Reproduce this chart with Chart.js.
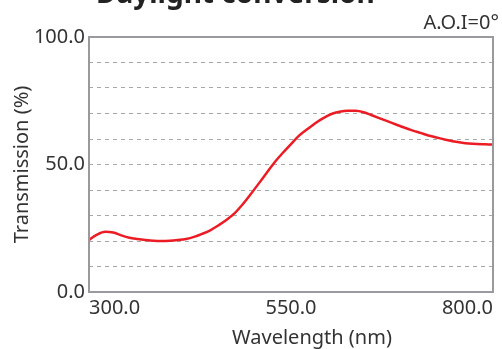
<!DOCTYPE html>
<html>
<head>
<meta charset="utf-8">
<script src="https://cdn.jsdelivr.net/npm/chart.js@4"></script>
<style>
  html, body { margin: 0; padding: 0; background: #fff; }
  #wrap { width: 502px; height: 349px; position: relative; }
</style>
</head>
<body>
<div id="wrap"><canvas id="chart"></canvas></div>
<script>
const chartTitle = "Daylight conversion"
const angleNote = "A.O.I=0°"
const xTitle = "Wavelength (nm)"

const wavelengths = [300, 310, 320, 330, 340, 350, 360, 370, 380, 390, 400, 410, 420, 430, 440, 450, 460, 470, 480, 490,
  500, 510, 520, 530, 540, 550, 560, 570, 580, 590, 600, 610, 620, 630, 640, 650, 660, 670, 680, 690,
  700, 710, 720, 730, 740, 750, 760, 770, 780, 790, 800]
const transmission = [20.4, 22.5, 23.6, 23.3, 22.2, 21.3, 20.8, 20.4, 20.1, 20.0, 20.1, 20.4, 20.8, 21.6, 22.8, 24.2, 26.1, 28.2, 30.8, 34.3,
  38.3, 42.5, 46.8, 51.0, 54.6, 58.0, 61.3, 63.8, 66.2, 68.2, 69.8, 70.7, 71.1, 71.1, 70.5, 69.3, 68.1, 66.9, 65.7, 64.5,
  63.4, 62.4, 61.4, 60.6, 59.8, 59.1, 58.6, 58.2, 58.0, 57.9, 57.8]
const xTicks = [300, 550, 800]
const yLabelled = [0, 50, 100]

const FONT = "'Noto Sans', sans-serif"
const TEXT = "#333"

const frameAndText = {
  id: "frameAndText",
  afterDraw(chart) {
    const { ctx, chartArea: a } = chart
    ctx.save()
    ctx.strokeStyle = "#9a9a9e"
    ctx.lineWidth = 2
    ctx.strokeRect(a.left, a.top, a.right - a.left, a.bottom - a.top)

    ctx.fillStyle = "#222"
    ctx.font = "bold 28px " + FONT
    ctx.textAlign = "left"
    ctx.textBaseline = "alphabetic"
    ctx.fillText(chartTitle, 96, 3)

    ctx.fillStyle = TEXT
    ctx.font = "20px " + FONT
    ctx.textAlign = "right"
    ctx.fillText(angleNote, 499, 29)

    ctx.textAlign = "center"
    ctx.fillText(xTitle, 312, 344)
    ctx.restore()
  }
}

new Chart(document.getElementById("chart"), {
  type: "line",
  data: {
    datasets: [{
      data: wavelengths.map((w, i) => ({ x: w, y: transmission[i] })),
      borderColor: "#ec1c24",
      borderWidth: 2.5,
      pointRadius: 0,
      cubicInterpolationMode: "monotone",
      fill: false
    }]
  },
  options: {
    responsive: true,
    maintainAspectRatio: false,
    animation: false,
    layout: { padding: { top: 37, right: 9, left: 10, bottom: 0 } },
    plugins: {
      legend: { display: false },
      tooltip: { enabled: false }
    },
    scales: {
      x: {
        type: "linear",
        min: 300,
        max: 800,
        afterBuildTicks: (s) => { s.ticks = xTicks.map(v => ({ value: v })) },
        afterFit: (s) => { s.height = 57 },
        grid: { display: false, drawTicks: false },
        border: { display: false },
        ticks: {
          align: "inner",
          padding: 4,
          autoSkip: false,
          maxRotation: 0,
          color: TEXT,
          font: { family: FONT, size: 20 },
          callback: (v) => v.toFixed(1)
        }
      },
      y: {
        min: 0,
        max: 100,
        afterBuildTicks: (s) => {
          const t = []
          for (let v = 0; v <= 100; v += 10) t.push({ value: v })
          s.ticks = t
        },
        afterFit: (s) => { s.width = 79 },
        grid: {
          color: "#a8a8a8",
          lineWidth: 1,
          drawTicks: false
        },
        border: { display: false, dash: [4, 4] },
        ticks: {
          padding: 4,
          autoSkip: false,
          color: TEXT,
          font: { family: FONT, size: 20 },
          callback: (v) => yLabelled.includes(v) ? v.toFixed(1) : ""
        },
        title: {
          display: true,
          text: "Transmission (%)",
          color: TEXT,
          font: { family: FONT, size: 20 },
          padding: { top: 0, bottom: 0 }
        }
      }
    }
  },
  plugins: [frameAndText]
})
</script>
</body>
</html>
